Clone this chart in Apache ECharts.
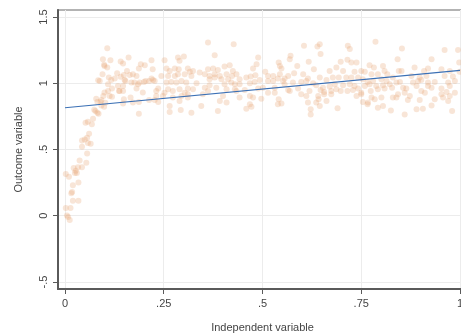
<!DOCTYPE html>
<html>
<head>
	<meta charset="utf-8">
	<script src="https://cdn.jsdelivr.net/npm/echarts@6/dist/echarts.min.js"></script>
	<title>Scatter with fit</title>
	<style>html,body{margin:0;padding:0;background:#fff;}</style>
</head>
<body>
	<div id="main" style="width: 461px;height:335px;"></div>

	<script type="text/javascript">
	// tick positions and labels
	var xTicks = [0, 0.25, 0.5, 0.75, 1];
	var xTickLabels = ['0', '.25', '.5', '.75', '1'];
	var yTicks = [-0.5, 0, 0.5, 1, 1.5];
	var yTickLabels = ['-.5', '0', '.5', '1', '1.5'];

	var pts1 = [[.002,.316],[.002,.058],[.014,.058],[.005,.002],[.008,-.01],[.012,-.033],[.02,.114],[.034,.114],[.016,.17],[.018,.18],[.02,.23],[.034,.25],[.01,.295],[.025,.323],[.03,.323],[.027,.34],[.022,.36],[.033,.366],[.043,.366],[.037,.417],[.054,.40],[.056,.47],[.043,.52],[.043,.568],[.05,.576],[.056,.589],[.061,.619],[.065,.543],[.058,.55],[.052,.702],[.058,.71],[.068,.69],[.071,.733],[.074,.80],[.077,.79],[.082,.778],[.085,.77],[.079,.884],[.082,.858],[.09,.858],[.092,.833],[.099,.823],[.102,.853],[.097,.904],[.10,.93],[.109,.942],[.113,.904],[.119,.899],[.092,.873],[.084,1.023],[.088,1.017],[.095,1.068],[.099,1.139],[.096,1.182],[.107,1.265],[.10,1.131],[.107,1.119],[.115,1.174],[.109,.992],[.111,1.043],[.117,1.025],[.126,1.035],[.132,1.076],[.119,.96],[.134,.98],[.137,.942],[.141,1.164],[.147,1.149],[.149,1.063],[.151,1.025],[.141,1.05],[.147,.98],[.153,1.017],[.161,1.195],[.157,1.093],[.164,1.063],[.168,1.005],[.176,1.005],[.172,1.068],[.181,1.055],[.187,1.111],[.192,1.144],[.202,1.136],[.185,.992],[.181,.96],[.189,1.005],[.2,1.01],[.204,1.017],[.213,1.017],[.219,1.174],[.222,1.106],[.219,1.035],[.223,1.025],[.227,1.017],[.231,.942],[.236,.96],[.197,.93],[.213,.873],[.227,.873],[.236,.858],[.147,.942],[.149,.879],[.147,.848],[.166,.892],[.172,.854],[.187,.858],[.187,.77],[.138,.942]];
	var pts2 = [[.362,1.308],[.427,1.295],[.379,1.212],[.286,1.195],[.301,1.202],[.290,1.169],[.252,1.174],[.257,1.111],[.265,1.093],[.278,1.111],[.288,1.106],[.311,1.111],[.316,1.086],[.324,1.093],[.341,1.081],[.362,1.106],[.375,1.111],[.387,1.101],[.404,1.126],[.417,1.136],[.425,1.093],[.244,1.055],[.261,1.055],[.278,1.055],[.286,1.068],[.303,1.068],[.320,1.055],[.354,1.068],[.366,1.055],[.379,1.068],[.392,1.055],[.409,1.068],[.423,1.055],[.257,1.005],[.269,1.010],[.282,1.005],[.295,1.017],[.307,1.005],[.333,1.0],[.366,1.030],[.379,1.043],[.396,1.030],[.413,1.030],[.261,.955],[.273,.942],[.290,.955],[.311,.960],[.324,.955],[.354,.967],[.366,.985],[.404,.992],[.421,1.005],[.248,.904],[.273,.892],[.295,.904],[.303,.929],[.311,.917],[.349,.917],[.362,.942],[.383,.967],[.409,.955],[.265,.828],[.290,.866],[.311,.892],[.345,.828],[.392,.866],[.400,.904],[.265,.783],[.293,.798],[.320,.778],[.387,.790],[.409,.854],[.231,.904],[.252,.929]];
	var pts3 = [[.605,1.283],[.489,1.195],[.571,1.207],[.569,1.182],[.617,1.162],[.541,1.157],[.544,1.131],[.485,1.144],[.548,1.111],[.588,1.131],[.476,1.111],[.507,1.086],[.434,1.068],[.442,1.030],[.459,1.043],[.470,1.051],[.482,1.061],[.493,1.025],[.514,1.055],[.527,1.055],[.544,1.068],[.539,1.035],[.556,1.035],[.565,1.055],[.580,1.076],[.603,1.068],[.615,1.035],[.630,1.106],[.430,.992],[.442,.992],[.468,1.0],[.480,1.010],[.514,1.017],[.527,1.017],[.552,1.017],[.556,.992],[.577,1.005],[.598,1.010],[.611,1.017],[.628,1.0],[.434,.942],[.455,.949],[.489,.960],[.501,.967],[.531,.967],[.565,.949],[.590,.960],[.619,.942],[.442,.892],[.468,.904],[.476,.892],[.497,.884],[.514,.929],[.531,.929],[.541,.879],[.569,.942],[.598,.917],[.611,.904],[.468,.841],[.459,.808],[.472,.823],[.539,.841],[.548,.848],[.615,.854],[.622,.803],[.622,.765],[.430,.955]];
	var pts4 = [[.645,1.295],[.639,1.278],[.647,1.220],[.716,1.283],[.721,1.258],[.786,1.313],[.698,1.162],[.715,1.177],[.725,1.157],[.738,1.157],[.771,1.136],[.782,1.119],[.805,1.131],[.809,1.093],[.670,1.093],[.687,1.119],[.704,1.093],[.733,1.086],[.750,1.093],[.759,1.086],[.776,1.068],[.792,1.068],[.816,1.068],[.830,1.043],[.645,1.043],[.662,1.025],[.678,1.043],[.693,1.043],[.712,1.043],[.725,1.043],[.742,1.043],[.754,1.030],[.766,1.010],[.780,1.017],[.801,1.030],[.814,1.017],[.636,.985],[.653,.967],[.670,.975],[.683,.992],[.704,.985],[.721,.992],[.733,.980],[.759,.980],[.771,.992],[.788,.980],[.805,.985],[.822,.992],[.647,.949],[.656,.934],[.674,.942],[.687,.955],[.698,.942],[.715,.942],[.729,.949],[.742,.960],[.750,.929],[.774,.942],[.792,.955],[.809,.960],[.828,.967],[.641,.904],[.656,.917],[.674,.917],[.738,.904],[.750,.917],[.776,.892],[.801,.892],[.830,.892],[.636,.854],[.642,.879],[.662,.866],[.754,.858],[.767,.854],[.784,.879],[.805,.828],[.792,.816],[.825,.795],[.645,.828],[.690,.811],[.766,.841]];
	var pts5 = [[.853,1.263],[.961,1.252],[.995,1.252],[.842,1.182],[.928,1.182],[.998,1.157],[.845,1.093],[.852,1.093],[.885,1.119],[.909,1.093],[.919,1.111],[.953,1.106],[.974,1.093],[.982,1.051],[.999,1.086],[.877,1.055],[.898,1.043],[.915,1.055],[.961,1.055],[.839,1.005],[.848,1.010],[.881,1.005],[.894,1.017],[.902,1.025],[.919,1.005],[.936,1.010],[.970,1.005],[.987,1.017],[.856,.967],[.864,.960],[.890,.980],[.919,.980],[.928,.967],[.953,.960],[.974,.980],[.843,.917],[.860,.929],[.873,.904],[.902,.942],[.911,.929],[.953,.917],[.966,.934],[.974,.904],[.839,.892],[.868,.873],[.898,.873],[.936,.879],[.957,.892],[.970,.866],[.928,.833],[.890,.803],[.906,.808],[.980,.790],[.860,.765],[.987,.929]];

	// linear fit end points
	var fitX = [0, 1];
	var fitY = [0.815, 1.097];

	var points = pts1.concat(pts2, pts3, pts4, pts5);
	var fitLine = fitX.map(function (x, i) { return [x, fitY[i]]; });

	var myChart = echarts.init(document.getElementById('main'));

	function labelFor(ticks, labels) {
		return function (v) {
			for (var i = 0; i < ticks.length; i++) {
				if (Math.abs(ticks[i] - v) < 1e-6) return labels[i];
			}
			return '';
		};
	}

	var option = {
		animation: false,
		backgroundColor: '#fff',
		textStyle: { fontFamily: 'Liberation Sans, Arial, sans-serif' },
		grid: {
			left: 58, top: 10, width: 409, height: 279,
			show: true, borderColor: '#9a9a9a', borderWidth: 1.5,
			containLabel: false,
			outerBoundsMode: 'none'
		},
		xAxis: {
			type: 'value',
			min: -0.0177, max: 1.0177,
			name: 'Independent variable',
			nameLocation: 'middle',
			nameGap: 33,
			nameTextStyle: { color: '#444', fontSize: 11 },
			axisLine: { show: true, onZero: false, lineStyle: { color: '#5a5a5a', width: 2 } },
			axisTick: { show: true, length: 5, customValues: xTicks, lineStyle: { color: '#5a5a5a' } },
			axisLabel: { customValues: xTicks, formatter: labelFor(xTicks, xTickLabels), color: '#444', fontSize: 11, margin: 9 },
			splitLine: { show: true, lineStyle: { color: '#ececec', width: 1 } }
		},
		yAxis: {
			type: 'value',
			min: -0.553, max: 1.553,
			name: 'Outcome variable',
			nameLocation: 'middle',
			nameGap: 34,
			nameRotate: 90,
			nameTextStyle: { color: '#444', fontSize: 11 },
			axisLine: { show: true, onZero: false, lineStyle: { color: '#5a5a5a', width: 2 } },
			axisTick: { show: true, length: 5, customValues: yTicks, lineStyle: { color: '#5a5a5a' } },
			axisLabel: { customValues: yTicks, formatter: labelFor(yTicks, yTickLabels), rotate: 90, color: '#444', fontSize: 11, margin: 9 },
			splitLine: { show: true, lineStyle: { color: '#ececec', width: 1 } }
		},
		series: [{
			type: 'scatter',
			data: points,
			symbol: 'circle',
			symbolSize: 6,
			itemStyle: { color: 'rgba(230,160,110,0.35)' },
			silent: true
		}, {
			type: 'line',
			data: fitLine,
			symbol: 'none',
			lineStyle: { color: '#3b70b5', width: 1.2 },
			silent: true
		}]
	};

	myChart.setOption(option);
	</script>
</body>
</html>
